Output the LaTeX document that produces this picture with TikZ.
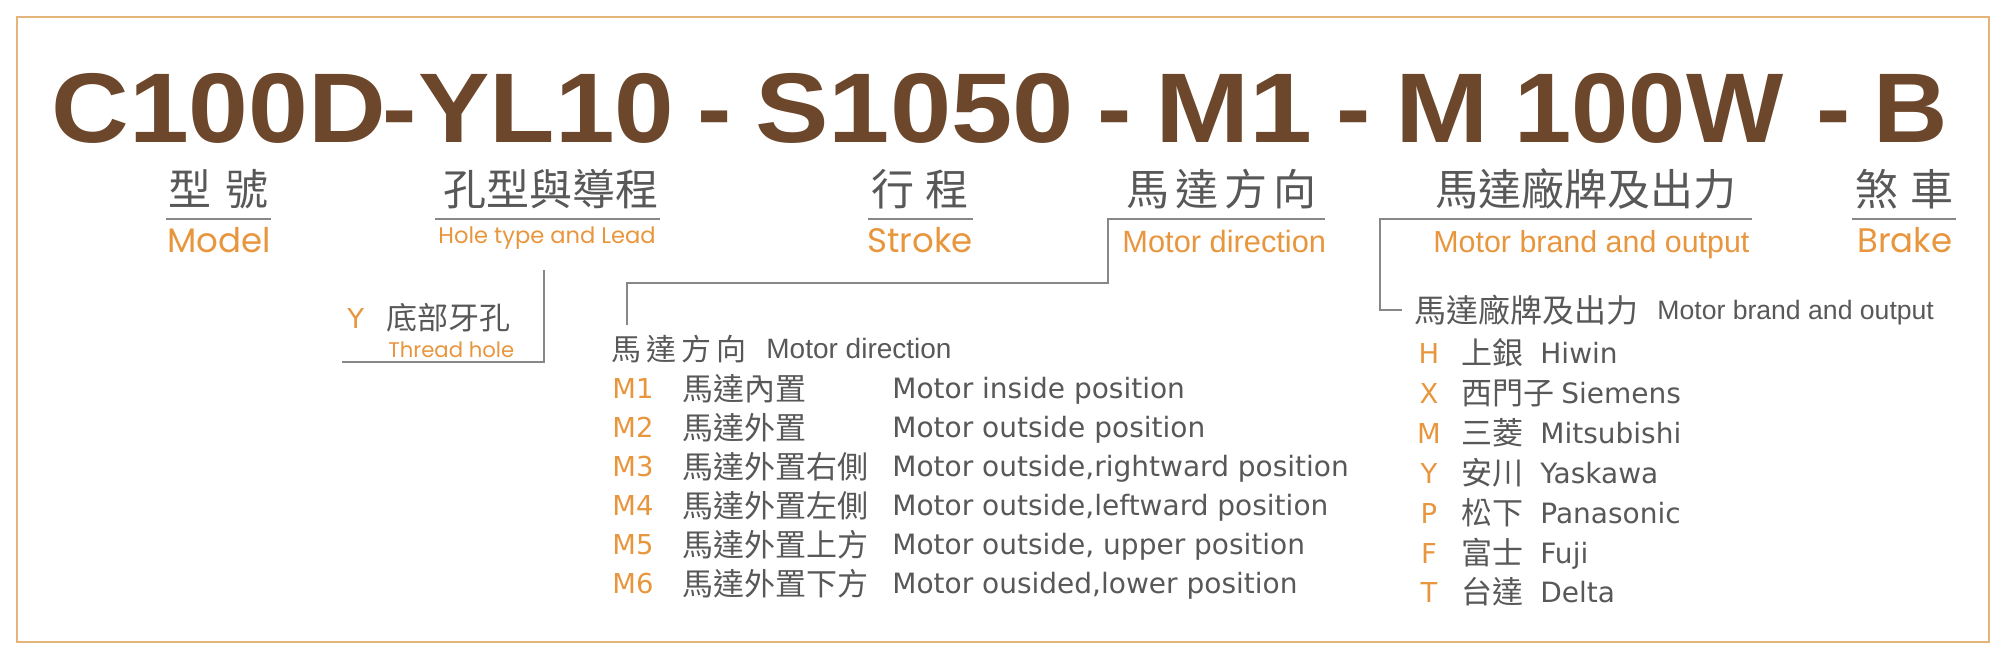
\documentclass[tikz,border=0pt]{standalone}
\usepackage{fontspec}
\usepackage{graphicx}
\setmainfont{Liberation Sans}
\newfontfamily\cjk{Noto Sans CJK TC}
\newfontfamily\geo{Poppins}
\newfontfamily\dvs{DejaVu Sans}
\newfontfamily\heavy[FakeStretch=1.04]{Liberation Sans}
\newcommand\fsz[1]{\fontsize{#1}{#1}\selectfont}
\newcommand\wide[2]{\scalebox{#1}[1]{#2}}
\definecolor{brn}{RGB}{108,71,43}
\definecolor{org}{RGB}{232,150,62}
\definecolor{gry}{RGB}{88,88,88}
\definecolor{lne}{RGB}{135,135,135}
\definecolor{frm}{RGB}{228,180,122}

\begin{document}
\begin{tikzpicture}[x=0.5pt,y=-0.5pt]%
  \tikzstyle{ttl}=[inner sep=0,anchor=base west,text=brn,font=\heavy\bfseries\fsz{49.5pt}]
  \tikzstyle{cjkb}=[inner sep=0,anchor=west,text=gry,font=\cjk\fsz{21.5pt}]
  \tikzstyle{cjks}=[inner sep=0,anchor=west,text=gry,font=\cjk\fsz{15.5pt}]
  \tikzstyle{engb}=[inner sep=0,anchor=base west,text=org,font=\geo\fsz{17pt}]
  \tikzstyle{engs}=[inner sep=0,anchor=base west,text=org,font=\geo\fsz{11.3pt}]
  \tikzstyle{engn}=[inner sep=0,anchor=base west,text=org,font=\fsz{15.4pt}]
  \tikzstyle{hdg}=[inner sep=0,anchor=base west,text=gry,font=\fsz{14pt}]
  \tikzstyle{lab}=[inner sep=0,anchor=base west,text=org,font=\dvs\fsz{13.7pt}]
  \tikzstyle{txt}=[inner sep=0,anchor=base west,text=gry,font=\dvs\fsz{14pt}]
  \tikzstyle{ln}=[lne,line width=0.8pt]
  \useasboundingbox (0,0) rectangle (2010,660);
  \draw[frm,line width=1pt] (17,17) rectangle (1989,642);
  % part number
  \node[ttl] (t0) at (51,142) {\wide{1.045}{C100D}};
  \node[ttl] (h0) at (382,142) {-};
  \node[ttl] (t1) at (418,142) {\wide{1.04}{YL10}};
  \node[ttl] (h1) at (697,142) {-};
  \node[ttl] (t2) at (755,142) {\wide{1.07}{S1050}};
  \node[ttl] (h2) at (1097,142) {-};
  \node[ttl] (t3) at (1155,142) {\wide{1.1}{M1}};
  \node[ttl] (h3) at (1336,142) {-};
  \node[ttl] (t4) at (1395,142) {\wide{1.09}{M}};
  \node[ttl] (t5) at (1514,142) {100W};
  \node[ttl] (h4) at (1816,142) {-};
  \node[ttl] (t6) at (1873,142) {B};
  % headings
  \node[cjkb] (c1) at (168,189) {型\hspace{7pt}號};
  \node[cjkb] (c2) at (443,189) {孔型與導程};
  \node[cjkb] (c3) at (871,189) {行\hspace{5.5pt}程};
  \node[cjkb] (c4) at (1126,189) {馬\hspace{3pt}達\hspace{3pt}方\hspace{3pt}向};
  \node[cjkb] (c5) at (1435,189) {馬達廠牌及出力};
  \node[cjkb] (c6) at (1855,189) {煞\hspace{6pt}車};
  \draw[ln] (166,219) -- (271,219);
  \draw[ln] (435,219) -- (660,219);
  \draw[ln] (868,219) -- (973,219);
  \draw[ln] (1852,219) -- (1956,219);
  \node[engb] (e1) at (167,252) {Model};
  \node[engs] (e2) at (438,243) {Hole type and Lead};
  \node[engb] (e3) at (867,252) {Stroke};
  \node[engn] (e4) at (1122,252) {Motor direction};
  \node[engn,font=\fsz{15.2pt}] (e5) at (1433,252) {Motor brand and output};
  \node[engb] (e6) at (1857,252) {Brake};
  % brackets
  \coordinate (ty) at (544,270);
  \coordinate (tx) at (342,362);
  \draw[ln] (ty) |- (tx);
  \coordinate (d0) at (627,325);
  \coordinate (d1) at (1108,283);
  \coordinate (d2) at (1325,219);
  \draw[ln] (d0) |- (d1) |- (d2);
  \coordinate (b0) at (1402,310);
  \coordinate (b1) at (1380,219);
  \coordinate (b2) at (1752,219);
  \draw[ln] (b0) -| (b1) -- (b2);
  % thread hole
  \node[lab] (y0) at (347,328) {Y};
  \node[cjks] (y1) at (386,318) {底部牙孔};
  \node[inner sep=0,anchor=base west,text=org,font=\geo\fsz{10.6pt}] (y2) at (388,357) {Thread hole};
  % motor direction
  \node[cjks,font=\cjk\fsz{15pt}] (m0) at (611,349) {馬\hspace{2.5pt}達\hspace{2.5pt}方\hspace{2.5pt}向};
  \node[hdg] (m0e) at (766,358) {Motor direction};
  \node[lab] (m1) at (612,398) {M1};
  \node[cjks] (m1c) at (682,389) {馬達內置};
  \node[txt] (m1e) at (892,398) {Motor inside position};
  \node[lab] (m2) at (612,437) {M2};
  \node[cjks] (m2c) at (682,428) {馬達外置};
  \node[txt] (m2e) at (892,437) {Motor outside position};
  \node[lab] (m3) at (612,476) {M3};
  \node[cjks] (m3c) at (682,467) {馬達外置右側};
  \node[txt] (m3e) at (892,476) {Motor outside,rightward position};
  \node[lab] (m4) at (612,515) {M4};
  \node[cjks] (m4c) at (682,506) {馬達外置左側};
  \node[txt] (m4e) at (892,515) {Motor outside,leftward position};
  \node[lab] (m5) at (612,554) {M5};
  \node[cjks] (m5c) at (682,545) {馬達外置上方};
  \node[txt] (m5e) at (892,554) {Motor outside, upper position};
  \node[lab] (m6) at (612,593) {M6};
  \node[cjks] (m6c) at (682,584) {馬達外置下方};
  \node[txt] (m6e) at (892,593) {Motor ousided,lower position};
  % motor brand
  \node[cjks,font=\cjk\fsz{16pt}] (bh) at (1414,310) {馬達廠牌及出力};
  \node[hdg,font=\fsz{13.3pt}] (bhe) at (1657,319) {Motor brand and output};
  \node[lab,anchor=base] (p1) at (1429,363) {H};
  \node[cjks] (p1c) at (1461,353) {上銀};
  \node[txt] (p1e) at (1540,363) {Hiwin};
  \node[lab,anchor=base] (p2) at (1429,403) {X};
  \node[cjks] (p2c) at (1461,393) {西門子};
  \node[txt] (p2e) at (1561,403) {Siemens};
  \node[lab,anchor=base] (p3) at (1429,443) {M};
  \node[cjks] (p3c) at (1461,433) {三菱};
  \node[txt] (p3e) at (1540,443) {Mitsubishi};
  \node[lab,anchor=base] (p4) at (1429,483) {Y};
  \node[cjks] (p4c) at (1461,473) {安川};
  \node[txt] (p4e) at (1540,483) {Yaskawa};
  \node[lab,anchor=base] (p5) at (1429,523) {P};
  \node[cjks] (p5c) at (1461,513) {松下};
  \node[txt] (p5e) at (1540,523) {Panasonic};
  \node[lab,anchor=base] (p6) at (1429,563) {F};
  \node[cjks] (p6c) at (1461,553) {富士};
  \node[txt] (p6e) at (1540,563) {Fuji};
  \node[lab,anchor=base] (p7) at (1429,602) {T};
  \node[cjks] (p7c) at (1461,592) {台達};
  \node[txt] (p7e) at (1540,602) {Delta};
\end{tikzpicture}
\end{document}
